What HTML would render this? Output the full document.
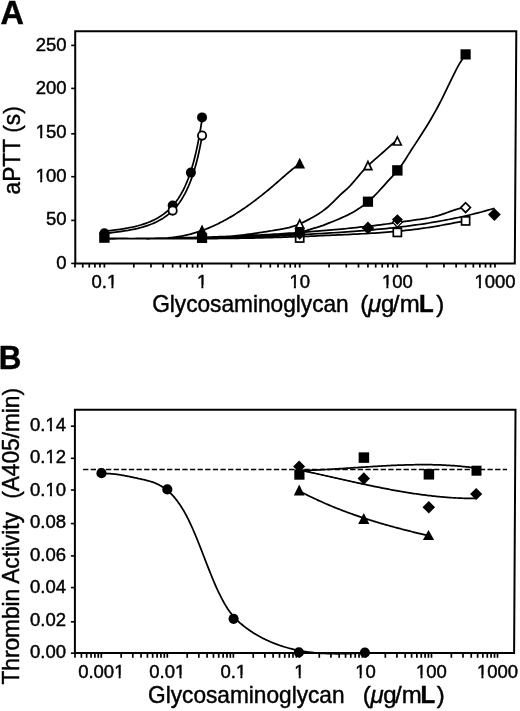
<!DOCTYPE html>
<html><head><meta charset="utf-8"><style>
html,body{margin:0;padding:0;background:#fff;}
body{width:520px;height:711px;overflow:hidden;}
svg{display:block;will-change:transform;}
text{font-family:"Liberation Sans",sans-serif;}
</style></head><body>
<svg width="520" height="711" viewBox="0 0 520 711">
<text x="0.60" y="23.80" font-size="32.40" text-anchor="start" font-family="Liberation Sans, sans-serif" stroke="#000" stroke-width="0.45" font-weight="bold">A</text>
<path d="M75.2,31.2 L516.3,31.2 L514.8,263.4 L75.3,263.4 Z" fill="none" stroke="#000" stroke-width="2"/>
<line x1="71.2" y1="263.40" x2="75" y2="263.40" stroke="#000" stroke-width="1.6"/>
<text x="66.60" y="268.80" font-size="18.50" text-anchor="end" font-family="Liberation Sans, sans-serif" stroke="#000" stroke-width="0.45" >0</text>
<line x1="71.2" y1="220.40" x2="75" y2="220.40" stroke="#000" stroke-width="1.6"/>
<text x="66.60" y="225.20" font-size="18.50" text-anchor="end" font-family="Liberation Sans, sans-serif" stroke="#000" stroke-width="0.45" >50</text>
<line x1="71.2" y1="176.70" x2="75" y2="176.70" stroke="#000" stroke-width="1.6"/>
<text x="66.60" y="181.60" font-size="18.50" text-anchor="end" font-family="Liberation Sans, sans-serif" stroke="#000" stroke-width="0.45" >100</text>
<rect x="36.00" y="179.20" width="4.18" height="4.40" fill="#fff"/>
<rect x="42.22" y="179.20" width="3.74" height="4.40" fill="#fff"/>
<line x1="71.2" y1="133.80" x2="75" y2="133.80" stroke="#000" stroke-width="1.6"/>
<text x="66.60" y="138.00" font-size="18.50" text-anchor="end" font-family="Liberation Sans, sans-serif" stroke="#000" stroke-width="0.45" >150</text>
<rect x="36.00" y="135.60" width="4.18" height="4.40" fill="#fff"/>
<rect x="42.22" y="135.60" width="3.74" height="4.40" fill="#fff"/>
<line x1="71.2" y1="88.40" x2="75" y2="88.40" stroke="#000" stroke-width="1.6"/>
<text x="66.60" y="94.40" font-size="18.50" text-anchor="end" font-family="Liberation Sans, sans-serif" stroke="#000" stroke-width="0.45" >200</text>
<line x1="71.2" y1="45.40" x2="75" y2="45.40" stroke="#000" stroke-width="1.6"/>
<text x="66.60" y="50.80" font-size="18.50" text-anchor="end" font-family="Liberation Sans, sans-serif" stroke="#000" stroke-width="0.45" >250</text>
<line x1="75.00" y1="263.5" x2="75.00" y2="267.6" stroke="#000" stroke-width="1.7"/>
<line x1="82.73" y1="263.5" x2="82.73" y2="267.6" stroke="#000" stroke-width="1.7"/>
<line x1="89.27" y1="263.5" x2="89.27" y2="267.6" stroke="#000" stroke-width="1.7"/>
<line x1="94.93" y1="263.5" x2="94.93" y2="267.6" stroke="#000" stroke-width="1.7"/>
<line x1="99.93" y1="263.5" x2="99.93" y2="267.6" stroke="#000" stroke-width="1.7"/>
<line x1="104.40" y1="263.5" x2="104.40" y2="267.6" stroke="#000" stroke-width="1.7"/>
<line x1="133.79" y1="263.5" x2="133.79" y2="267.6" stroke="#000" stroke-width="1.7"/>
<line x1="150.99" y1="263.5" x2="150.99" y2="267.6" stroke="#000" stroke-width="1.7"/>
<line x1="163.19" y1="263.5" x2="163.19" y2="267.6" stroke="#000" stroke-width="1.7"/>
<line x1="172.65" y1="263.5" x2="172.65" y2="267.6" stroke="#000" stroke-width="1.7"/>
<line x1="180.38" y1="263.5" x2="180.38" y2="267.6" stroke="#000" stroke-width="1.7"/>
<line x1="186.92" y1="263.5" x2="186.92" y2="267.6" stroke="#000" stroke-width="1.7"/>
<line x1="192.58" y1="263.5" x2="192.58" y2="267.6" stroke="#000" stroke-width="1.7"/>
<line x1="197.58" y1="263.5" x2="197.58" y2="267.6" stroke="#000" stroke-width="1.7"/>
<line x1="202.05" y1="263.5" x2="202.05" y2="267.6" stroke="#000" stroke-width="1.7"/>
<line x1="231.44" y1="263.5" x2="231.44" y2="267.6" stroke="#000" stroke-width="1.7"/>
<line x1="248.64" y1="263.5" x2="248.64" y2="267.6" stroke="#000" stroke-width="1.7"/>
<line x1="260.84" y1="263.5" x2="260.84" y2="267.6" stroke="#000" stroke-width="1.7"/>
<line x1="270.30" y1="263.5" x2="270.30" y2="267.6" stroke="#000" stroke-width="1.7"/>
<line x1="278.03" y1="263.5" x2="278.03" y2="267.6" stroke="#000" stroke-width="1.7"/>
<line x1="284.57" y1="263.5" x2="284.57" y2="267.6" stroke="#000" stroke-width="1.7"/>
<line x1="290.23" y1="263.5" x2="290.23" y2="267.6" stroke="#000" stroke-width="1.7"/>
<line x1="295.23" y1="263.5" x2="295.23" y2="267.6" stroke="#000" stroke-width="1.7"/>
<line x1="299.70" y1="263.5" x2="299.70" y2="267.6" stroke="#000" stroke-width="1.7"/>
<line x1="329.09" y1="263.5" x2="329.09" y2="267.6" stroke="#000" stroke-width="1.7"/>
<line x1="346.29" y1="263.5" x2="346.29" y2="267.6" stroke="#000" stroke-width="1.7"/>
<line x1="358.49" y1="263.5" x2="358.49" y2="267.6" stroke="#000" stroke-width="1.7"/>
<line x1="367.95" y1="263.5" x2="367.95" y2="267.6" stroke="#000" stroke-width="1.7"/>
<line x1="375.68" y1="263.5" x2="375.68" y2="267.6" stroke="#000" stroke-width="1.7"/>
<line x1="382.22" y1="263.5" x2="382.22" y2="267.6" stroke="#000" stroke-width="1.7"/>
<line x1="387.88" y1="263.5" x2="387.88" y2="267.6" stroke="#000" stroke-width="1.7"/>
<line x1="392.88" y1="263.5" x2="392.88" y2="267.6" stroke="#000" stroke-width="1.7"/>
<line x1="397.35" y1="263.5" x2="397.35" y2="267.6" stroke="#000" stroke-width="1.7"/>
<line x1="426.74" y1="263.5" x2="426.74" y2="267.6" stroke="#000" stroke-width="1.7"/>
<line x1="443.94" y1="263.5" x2="443.94" y2="267.6" stroke="#000" stroke-width="1.7"/>
<line x1="456.14" y1="263.5" x2="456.14" y2="267.6" stroke="#000" stroke-width="1.7"/>
<line x1="465.60" y1="263.5" x2="465.60" y2="267.6" stroke="#000" stroke-width="1.7"/>
<line x1="473.33" y1="263.5" x2="473.33" y2="267.6" stroke="#000" stroke-width="1.7"/>
<line x1="479.87" y1="263.5" x2="479.87" y2="267.6" stroke="#000" stroke-width="1.7"/>
<line x1="485.53" y1="263.5" x2="485.53" y2="267.6" stroke="#000" stroke-width="1.7"/>
<line x1="490.53" y1="263.5" x2="490.53" y2="267.6" stroke="#000" stroke-width="1.7"/>
<line x1="495.00" y1="263.5" x2="495.00" y2="267.6" stroke="#000" stroke-width="1.7"/>
<text x="104.40" y="287.60" font-size="18.50" text-anchor="middle" font-family="Liberation Sans, sans-serif" stroke="#000" stroke-width="0.45" >0.1</text>
<rect x="107.24" y="285.20" width="4.18" height="4.40" fill="#fff"/>
<rect x="113.45" y="285.20" width="3.74" height="4.40" fill="#fff"/>
<text x="202.05" y="287.60" font-size="18.50" text-anchor="middle" font-family="Liberation Sans, sans-serif" stroke="#000" stroke-width="0.45" >1</text>
<rect x="197.17" y="285.20" width="4.18" height="4.40" fill="#fff"/>
<rect x="203.39" y="285.20" width="3.74" height="4.40" fill="#fff"/>
<text x="299.70" y="287.60" font-size="18.50" text-anchor="middle" font-family="Liberation Sans, sans-serif" stroke="#000" stroke-width="0.45" >10</text>
<rect x="289.68" y="285.20" width="4.18" height="4.40" fill="#fff"/>
<rect x="295.89" y="285.20" width="3.74" height="4.40" fill="#fff"/>
<text x="397.35" y="287.60" font-size="18.50" text-anchor="middle" font-family="Liberation Sans, sans-serif" stroke="#000" stroke-width="0.45" >100</text>
<rect x="382.18" y="285.20" width="4.18" height="4.40" fill="#fff"/>
<rect x="388.40" y="285.20" width="3.74" height="4.40" fill="#fff"/>
<text x="495.00" y="287.60" font-size="18.50" text-anchor="middle" font-family="Liberation Sans, sans-serif" stroke="#000" stroke-width="0.45" >1000</text>
<rect x="474.69" y="285.20" width="4.18" height="4.40" fill="#fff"/>
<rect x="480.91" y="285.20" width="3.74" height="4.40" fill="#fff"/>
<text transform="translate(152.20,311.90) scale(0.945,1)" font-size="24.00" font-family="Liberation Sans, sans-serif" stroke="#000" stroke-width="0.45">Glycosaminoglycan</text><text y="311.90" font-size="24.00" font-family="Liberation Sans, sans-serif" stroke="#000" stroke-width="0.45"><tspan x="360.26">(</tspan><tspan x="367.98" font-style="italic">μ</tspan><tspan x="380.94">g</tspan><tspan x="392.70">/</tspan><tspan x="399.72">m</tspan><tspan x="419.02" font-weight="bold">L</tspan><tspan x="436.26">)</tspan></text>
<text transform="translate(20.00,194.40) rotate(-90) scale(0.945,1)" font-size="24.00" font-family="Liberation Sans, sans-serif" stroke="#000" stroke-width="0.45"><tspan x="0">aPTT</tspan><tspan x="65.29">(s)</tspan></text>
<path d="M104.40,231.20 L110.32,230.60 L115.52,229.97 L120.15,229.33 L124.33,228.66 L128.13,227.98 L131.62,227.26 L134.84,226.53 L137.83,225.77 L140.63,224.98 L143.25,224.17 L145.73,223.33 L148.06,222.47 L150.27,221.57 L152.38,220.65 L154.38,219.69 L156.29,218.70 L158.13,217.68 L159.88,216.62 L161.57,215.53 L163.19,214.41 L164.75,213.24 L166.25,212.04 L167.71,210.79 L169.11,209.51 L170.47,208.18 L171.79,206.80 L173.07,205.38 L174.31,203.91 L175.52,202.40 L176.69,200.83 L177.83,199.21 L178.94,197.54 L180.03,195.81 L181.08,194.02 L182.11,192.17 L183.12,190.26 L184.10,188.29 L185.06,186.25 L186.00,184.14 L186.92,181.96 L187.82,179.71 L188.70,177.38 L189.56,174.98 L190.41,172.49 L191.24,169.92 L192.05,167.27 L192.85,164.53 L193.63,161.69 L194.40,158.76 L195.15,155.73 L195.90,152.61 L196.62,149.37 L197.34,146.03 L198.05,142.57 L198.74,139.00 L199.42,135.32 L200.09,131.50 L200.75,127.56 L201.40,123.49 L202.05,119.28 M104.40,233.31 L110.32,232.76 L115.52,232.18 L120.15,231.59 L124.33,230.98 L128.13,230.36 L131.62,229.71 L134.84,229.04 L137.83,228.35 L140.63,227.63 L143.25,226.90 L145.73,226.14 L148.06,225.36 L150.27,224.55 L152.38,223.71 L154.38,222.85 L156.29,221.97 L158.13,221.05 L159.88,220.10 L161.57,219.13 L163.19,218.12 L164.75,217.08 L166.25,216.01 L167.71,214.91 L169.11,213.76 L170.47,212.59 L171.79,211.37 L173.07,210.12 L174.31,208.83 L175.52,207.49 L176.69,206.11 L177.83,204.69 L178.94,203.23 L180.03,201.71 L181.08,200.15 L182.11,198.54 L183.12,196.88 L184.10,195.16 L185.06,193.39 L186.00,191.56 L186.92,189.68 L187.82,187.74 L188.70,185.73 L189.56,183.66 L190.41,181.52 L191.24,179.32 L192.05,177.04 L192.85,174.69 L193.63,172.27 L194.40,169.77 L195.15,167.19 L195.90,164.53 L196.62,161.79 L197.34,158.95 L198.05,156.03 L198.74,153.01 L199.42,149.90 L200.09,146.69 L200.75,143.37 L201.40,139.95 L202.05,136.42 M104.40,238.68 L106.04,238.60 L107.68,238.54 L109.32,238.49 L110.96,238.46 L112.61,238.43 L114.25,238.41 L115.89,238.40 L117.53,238.39 L119.17,238.39 L120.81,238.40 L122.45,238.42 L124.09,238.44 L125.74,238.46 L127.38,238.48 L129.02,238.51 L130.66,238.54 L132.30,238.57 L133.94,238.60 L135.58,238.63 L137.22,238.66 L138.86,238.68 L140.51,238.71 L142.15,238.72 L143.79,238.74 L145.43,238.75 L147.07,238.75 L148.71,238.75 L150.35,238.74 L151.99,238.72 L153.64,238.69 L155.28,238.65 L156.92,238.60 L158.56,238.54 L160.20,238.47 L161.84,238.38 L163.48,238.29 L165.12,238.17 L166.76,238.05 L168.41,237.90 L170.05,237.74 L171.69,237.57 L173.33,237.37 L174.97,237.16 L176.61,236.92 L178.25,236.67 L179.89,236.39 L181.54,236.10 L183.18,235.78 L184.82,235.44 L186.46,235.08 L188.10,234.69 L189.74,234.29 L191.38,233.86 L193.02,233.41 L194.66,232.93 L196.31,232.44 L197.95,231.92 L199.59,231.38 L201.23,230.82 L202.87,230.23 L204.51,229.63 L206.15,229.00 L207.79,228.35 L209.44,227.67 L211.08,226.97 L212.72,226.25 L214.36,225.51 L216.00,224.75 L217.64,223.96 L219.28,223.15 L220.92,222.32 L222.56,221.46 L224.21,220.59 L225.85,219.69 L227.49,218.77 L229.13,217.83 L230.77,216.87 L232.41,215.89 L234.05,214.89 L235.69,213.87 L237.34,212.83 L238.98,211.77 L240.62,210.70 L242.26,209.60 L243.90,208.48 L245.54,207.35 L247.18,206.20 L248.82,205.03 L250.46,203.85 L252.11,202.64 L253.75,201.42 L255.39,200.19 L257.03,198.93 L258.67,197.66 L260.31,196.38 L261.95,195.08 L263.59,193.76 L265.24,192.43 L266.88,191.09 L268.52,189.73 L270.16,188.36 L271.80,186.98 L273.44,185.58 L275.08,184.18 L276.72,182.76 L278.36,181.34 L280.01,179.90 L281.65,178.46 L283.29,177.01 L284.93,175.57 L286.57,174.14 L288.21,172.72 L289.85,171.33 L291.49,169.97 L293.14,168.64 L294.78,167.35 L296.42,166.11 L298.06,164.92 L299.70,163.80 M104.40,238.70 L106.86,238.67 L109.32,238.64 L111.78,238.61 L114.24,238.59 L116.69,238.58 L119.15,238.57 L121.61,238.56 L124.07,238.55 L126.53,238.55 L128.99,238.55 L131.45,238.55 L133.91,238.56 L136.36,238.56 L138.82,238.57 L141.28,238.57 L143.74,238.58 L146.20,238.59 L148.66,238.59 L151.12,238.60 L153.58,238.60 L156.04,238.60 L158.49,238.60 L160.95,238.60 L163.41,238.60 L165.87,238.59 L168.33,238.58 L170.79,238.57 L173.25,238.55 L175.71,238.53 L178.16,238.50 L180.62,238.47 L183.08,238.43 L185.54,238.39 L188.00,238.34 L190.46,238.29 L192.92,238.23 L195.38,238.16 L197.84,238.08 L200.29,238.00 L202.75,237.90 L205.21,237.80 L207.67,237.69 L210.13,237.58 L212.59,237.45 L215.05,237.31 L217.51,237.16 L219.96,237.00 L222.42,236.83 L224.88,236.65 L227.34,236.46 L229.80,236.25 L232.26,236.04 L234.72,235.81 L237.18,235.56 L239.64,235.31 L242.09,235.04 L244.55,234.75 L247.01,234.45 L249.47,234.14 L251.93,233.81 L254.39,233.47 L256.85,233.11 L259.31,232.74 L261.76,232.35 L264.22,231.96 L266.68,231.56 L269.14,231.15 L271.60,230.75 L274.06,230.34 L276.52,229.94 L278.98,229.54 L281.44,229.11 L283.89,228.66 L286.35,228.15 L288.81,227.57 L291.27,226.92 L293.73,226.17 L296.19,225.31 L298.65,224.35 L301.11,223.28 L303.56,222.13 L306.02,220.90 L308.48,219.62 L310.94,218.30 L313.40,216.93 L315.86,215.51 L318.32,214.00 L320.78,212.39 L323.24,210.65 L325.69,208.77 L328.15,206.72 L330.61,204.48 L333.07,202.08 L335.53,199.58 L337.99,197.10 L340.45,194.72 L342.91,192.48 L345.36,190.29 L347.82,188.03 L350.28,185.59 L352.74,182.91 L355.20,180.04 L357.66,177.09 L360.12,174.14 L362.58,171.29 L365.04,168.61 L367.49,166.12 L369.95,163.78 L372.41,161.56 L374.87,159.41 L377.33,157.30 L379.79,155.18 L382.25,153.02 L384.71,150.82 L387.16,148.60 L389.62,146.41 L392.08,144.27 L394.54,142.21 L397.00,140.28 M104.40,238.65 L107.44,238.65 L110.48,238.65 L113.52,238.65 L116.55,238.65 L119.59,238.65 L122.63,238.65 L125.67,238.65 L128.71,238.65 L131.75,238.65 L134.79,238.65 L137.83,238.65 L140.86,238.64 L143.90,238.64 L146.94,238.63 L149.98,238.63 L153.02,238.62 L156.06,238.61 L159.10,238.59 L162.13,238.58 L165.17,238.56 L168.21,238.54 L171.25,238.51 L174.29,238.49 L177.33,238.45 L180.37,238.42 L183.41,238.38 L186.44,238.34 L189.48,238.29 L192.52,238.24 L195.56,238.18 L198.60,238.12 L201.64,238.05 L204.68,237.98 L207.71,237.91 L210.75,237.82 L213.79,237.73 L216.83,237.64 L219.87,237.54 L222.91,237.44 L225.95,237.33 L228.98,237.22 L232.02,237.11 L235.06,236.99 L238.10,236.87 L241.14,236.75 L244.18,236.62 L247.22,236.50 L250.26,236.37 L253.29,236.25 L256.33,236.12 L259.37,235.99 L262.41,235.87 L265.45,235.74 L268.49,235.62 L271.53,235.50 L274.56,235.38 L277.60,235.27 L280.64,235.16 L283.68,235.04 L286.72,234.88 L289.76,234.64 L292.80,234.29 L295.84,233.79 L298.87,233.11 L301.91,232.21 L304.95,231.15 L307.99,230.06 L311.03,229.06 L314.07,228.18 L317.11,227.33 L320.14,226.40 L323.18,225.34 L326.22,224.16 L329.26,222.92 L332.30,221.69 L335.34,220.46 L338.38,219.20 L341.42,217.91 L344.45,216.56 L347.49,215.12 L350.53,213.58 L353.57,211.91 L356.61,210.09 L359.65,208.10 L362.69,205.93 L365.72,203.56 L368.76,201.01 L371.80,198.26 L374.84,195.34 L377.88,192.24 L380.92,188.96 L383.96,185.55 L386.99,182.12 L390.03,178.79 L393.07,175.60 L396.11,172.30 L399.15,168.58 L402.19,164.31 L405.23,159.68 L408.27,154.86 L411.30,150.06 L414.34,145.35 L417.38,140.69 L420.42,136.02 L423.46,131.29 L426.50,126.44 L429.54,121.44 L432.57,116.25 L435.61,110.85 L438.65,105.22 L441.69,99.33 L444.73,93.17 L447.77,86.86 L450.81,80.51 L453.85,74.29 L456.88,68.36 L459.92,62.94 L462.96,58.22 L466.00,54.39 M104.40,238.77 L107.43,238.76 L110.47,238.74 L113.50,238.73 L116.54,238.71 L119.57,238.69 L122.61,238.67 L125.64,238.65 L128.68,238.62 L131.71,238.59 L134.74,238.57 L137.78,238.54 L140.81,238.50 L143.85,238.47 L146.88,238.43 L149.92,238.39 L152.95,238.35 L155.99,238.30 L159.02,238.26 L162.05,238.21 L165.09,238.16 L168.12,238.10 L171.16,238.05 L174.19,237.99 L177.23,237.92 L180.26,237.86 L183.30,237.79 L186.33,237.72 L189.36,237.65 L192.40,237.57 L195.43,237.49 L198.47,237.41 L201.50,237.32 L204.54,237.23 L207.57,237.14 L210.61,237.05 L213.64,236.95 L216.67,236.85 L219.71,236.74 L222.74,236.63 L225.78,236.52 L228.81,236.40 L231.85,236.28 L234.88,236.16 L237.92,236.03 L240.95,235.90 L243.98,235.76 L247.02,235.62 L250.05,235.48 L253.09,235.33 L256.12,235.18 L259.16,235.03 L262.19,234.87 L265.23,234.70 L268.26,234.54 L271.29,234.36 L274.33,234.19 L277.36,234.01 L280.40,233.82 L283.43,233.63 L286.47,233.44 L289.50,233.24 L292.54,233.03 L295.57,232.82 L298.61,232.61 L301.64,232.39 L304.67,232.17 L307.71,231.94 L310.74,231.71 L313.78,231.47 L316.81,231.22 L319.85,230.98 L322.88,230.72 L325.92,230.46 L328.95,230.20 L331.98,229.93 L335.02,229.65 L338.05,229.37 L341.09,229.09 L344.12,228.79 L347.16,228.50 L350.19,228.19 L353.23,227.88 L356.26,227.57 L359.29,227.24 L362.33,226.91 L365.36,226.58 L368.40,226.23 L371.43,225.88 L374.47,225.52 L377.50,225.15 L380.54,224.78 L383.57,224.39 L386.60,224.00 L389.64,223.60 L392.67,223.19 L395.71,222.77 L398.74,222.34 L401.78,221.90 L404.81,221.46 L407.85,221.01 L410.88,220.57 L413.91,220.13 L416.95,219.69 L419.98,219.26 L423.02,218.80 L426.05,218.30 L429.09,217.75 L432.12,217.13 L435.16,216.42 L438.19,215.60 L441.22,214.66 L444.26,213.61 L447.29,212.50 L450.33,211.39 L453.36,210.31 L456.40,209.34 L459.43,208.52 L462.47,207.90 L465.50,207.53 M104.40,238.69 L107.44,238.67 L110.48,238.65 L113.52,238.64 L116.56,238.63 L119.60,238.62 L122.64,238.61 L125.68,238.60 L128.72,238.60 L131.76,238.60 L134.79,238.60 L137.83,238.59 L140.87,238.59 L143.91,238.60 L146.95,238.60 L149.99,238.60 L153.03,238.60 L156.07,238.61 L159.11,238.61 L162.15,238.61 L165.19,238.62 L168.23,238.62 L171.27,238.62 L174.31,238.62 L177.35,238.63 L180.39,238.63 L183.43,238.63 L186.47,238.62 L189.51,238.62 L192.55,238.62 L195.58,238.61 L198.62,238.60 L201.66,238.59 L204.70,238.58 L207.74,238.57 L210.78,238.55 L213.82,238.54 L216.86,238.52 L219.90,238.49 L222.94,238.47 L225.98,238.44 L229.02,238.40 L232.06,238.37 L235.10,238.33 L238.14,238.29 L241.18,238.24 L244.22,238.19 L247.26,238.14 L250.30,238.08 L253.34,238.02 L256.37,237.95 L259.41,237.88 L262.45,237.81 L265.49,237.73 L268.53,237.65 L271.57,237.56 L274.61,237.47 L277.65,237.37 L280.69,237.28 L283.73,237.18 L286.77,237.07 L289.81,236.96 L292.85,236.85 L295.89,236.74 L298.93,236.63 L301.97,236.51 L305.01,236.39 L308.05,236.26 L311.09,236.14 L314.13,236.01 L317.16,235.88 L320.20,235.75 L323.24,235.62 L326.28,235.49 L329.32,235.35 L332.36,235.21 L335.40,235.08 L338.44,234.94 L341.48,234.80 L344.52,234.66 L347.56,234.52 L350.60,234.37 L353.64,234.22 L356.68,234.07 L359.72,233.91 L362.76,233.75 L365.80,233.58 L368.84,233.40 L371.88,233.22 L374.92,233.03 L377.95,232.82 L380.99,232.61 L384.03,232.39 L387.07,232.15 L390.11,231.90 L393.15,231.64 L396.19,231.37 L399.23,231.08 L402.27,230.78 L405.31,230.46 L408.35,230.12 L411.39,229.77 L414.43,229.40 L417.47,229.01 L420.51,228.61 L423.55,228.19 L426.59,227.75 L429.63,227.29 L432.67,226.81 L435.71,226.31 L438.74,225.80 L441.78,225.26 L444.82,224.70 L447.86,224.13 L450.90,223.56 L453.94,222.97 L456.98,222.38 L460.02,221.80 L463.06,221.22 L466.10,220.66 M104.40,238.89 L107.68,238.84 L110.95,238.80 L114.23,238.76 L117.51,238.72 L120.79,238.67 L124.06,238.63 L127.34,238.59 L130.62,238.55 L133.90,238.51 L137.17,238.47 L140.45,238.44 L143.73,238.40 L147.01,238.36 L150.28,238.32 L153.56,238.28 L156.84,238.24 L160.11,238.19 L163.39,238.15 L166.67,238.11 L169.95,238.07 L173.22,238.02 L176.50,237.98 L179.78,237.93 L183.06,237.89 L186.33,237.84 L189.61,237.79 L192.89,237.73 L196.16,237.68 L199.44,237.63 L202.72,237.57 L206.00,237.51 L209.27,237.45 L212.55,237.39 L215.83,237.32 L219.11,237.26 L222.38,237.19 L225.66,237.12 L228.94,237.04 L232.22,236.97 L235.49,236.89 L238.77,236.80 L242.05,236.72 L245.32,236.63 L248.60,236.54 L251.88,236.44 L255.16,236.35 L258.43,236.24 L261.71,236.14 L264.99,236.03 L268.27,235.92 L271.54,235.80 L274.82,235.68 L278.10,235.56 L281.37,235.43 L284.65,235.30 L287.93,235.16 L291.21,235.02 L294.48,234.88 L297.76,234.73 L301.04,234.57 L304.32,234.41 L307.59,234.25 L310.87,234.08 L314.15,233.91 L317.43,233.73 L320.70,233.54 L323.98,233.35 L327.26,233.16 L330.53,232.96 L333.81,232.75 L337.09,232.54 L340.37,232.32 L343.64,232.10 L346.92,231.87 L350.20,231.63 L353.48,231.39 L356.75,231.14 L360.03,230.88 L363.31,230.62 L366.58,230.35 L369.86,230.07 L373.14,229.78 L376.42,229.48 L379.69,229.17 L382.97,228.85 L386.25,228.52 L389.53,228.18 L392.80,227.82 L396.08,227.45 L399.36,227.08 L402.64,226.68 L405.91,226.28 L409.19,225.85 L412.47,225.42 L415.74,224.97 L419.02,224.50 L422.30,224.02 L425.58,223.52 L428.85,223.00 L432.13,222.46 L435.41,221.91 L438.69,221.34 L441.96,220.75 L445.24,220.14 L448.52,219.51 L451.79,218.86 L455.07,218.18 L458.35,217.49 L461.63,216.78 L464.90,216.04 L468.18,215.28 L471.46,214.49 L474.74,213.68 L478.01,212.85 L481.29,211.99 L484.57,211.11 L487.85,210.20 L491.12,209.27 L494.40,208.30" fill="none" stroke="#000" stroke-width="1.75" />
<rect x="99.20" y="232.40" width="10.40" height="10.40" fill="#000"/>
<circle cx="104.40" cy="233.20" r="5.00" fill="#000"/>
<circle cx="172.65" cy="205.60" r="5.00" fill="#000"/>
<circle cx="172.65" cy="210.60" r="4.15" fill="#fff" stroke="#000" stroke-width="1.8"/>
<circle cx="190.90" cy="172.60" r="5.00" fill="#000"/>
<circle cx="202.05" cy="117.40" r="5.00" fill="#000"/>
<circle cx="202.05" cy="135.60" r="4.15" fill="#fff" stroke="#000" stroke-width="1.8"/>
<rect x="196.95" y="232.80" width="10.20" height="10.20" fill="#000"/>
<path d="M202.05,224.60 L207.45,235.40 L196.65,235.40 Z" fill="#000"/>
<rect x="295.65" y="233.95" width="8.10" height="8.10" fill="#fff" stroke="#000" stroke-width="1.7"/>
<rect x="294.90" y="227.70" width="9.60" height="9.60" fill="#000"/>
<path d="M299.70,228.20 L305.50,234.00 L299.70,239.80 L293.90,234.00 Z" fill="#000"/>
<path d="M299.70,219.95 L303.60,227.95 L295.80,227.95 Z" fill="#fff" stroke="#000" stroke-width="1.7" stroke-linejoin="miter"/>
<path d="M299.70,157.70 L305.10,168.50 L294.30,168.50 Z" fill="#000"/>
<path d="M367.95,221.60 L374.25,227.90 L367.95,234.20 L361.65,227.90 Z" fill="#000"/>
<rect x="362.85" y="196.60" width="10.20" height="10.20" fill="#000"/>
<path d="M367.95,161.55 L371.85,169.55 L364.05,169.55 Z" fill="#fff" stroke="#000" stroke-width="1.7" stroke-linejoin="miter"/>
<rect x="393.30" y="228.35" width="8.10" height="8.10" fill="#fff" stroke="#000" stroke-width="1.7"/>
<path d="M397.40,217.30 L402.30,222.20 L397.40,227.10 L392.50,222.20 Z" fill="#fff" stroke="#000" stroke-width="1.30"/>
<path d="M397.40,214.15 L402.85,219.60 L397.40,225.05 L391.95,219.60 Z" fill="#000"/>
<rect x="392.15" y="165.20" width="10.40" height="10.40" fill="#000"/>
<path d="M397.35,137.00 L401.25,145.00 L393.45,145.00 Z" fill="#fff" stroke="#000" stroke-width="1.7" stroke-linejoin="miter"/>
<rect x="461.55" y="216.85" width="8.10" height="8.10" fill="#fff" stroke="#000" stroke-width="1.7"/>
<path d="M465.60,202.75 L470.45,207.60 L465.60,212.45 L460.75,207.60 Z" fill="#fff" stroke="#000" stroke-width="1.70"/>
<rect x="460.50" y="49.30" width="10.20" height="10.20" fill="#000"/>
<path d="M494.40,208.20 L500.80,214.60 L494.40,221.00 L488.00,214.60 Z" fill="#000"/>
<text x="-1.20" y="368.90" font-size="33.00" text-anchor="start" font-family="Liberation Sans, sans-serif" stroke="#000" stroke-width="0.45" font-weight="bold" transform="translate(-1.2,368.9) scale(0.95,1) translate(1.2,-368.9)">B</text>
<path d="M74.9,409.7 L515.5,409.7 L514.1,653.1 L74.9,653.1 Z" fill="none" stroke="#000" stroke-width="2"/>
<line x1="70.9" y1="653.20" x2="75" y2="653.20" stroke="#000" stroke-width="1.6"/>
<text x="66.00" y="658.30" font-size="18.50" text-anchor="end" font-family="Liberation Sans, sans-serif" stroke="#000" stroke-width="0.45" >0.00</text>
<line x1="70.9" y1="621.85" x2="75" y2="621.85" stroke="#000" stroke-width="1.6"/>
<text x="66.00" y="625.80" font-size="18.50" text-anchor="end" font-family="Liberation Sans, sans-serif" stroke="#000" stroke-width="0.45" >0.02</text>
<line x1="70.9" y1="587.60" x2="75" y2="587.60" stroke="#000" stroke-width="1.6"/>
<text x="66.00" y="593.30" font-size="18.50" text-anchor="end" font-family="Liberation Sans, sans-serif" stroke="#000" stroke-width="0.45" >0.04</text>
<line x1="70.9" y1="555.90" x2="75" y2="555.90" stroke="#000" stroke-width="1.6"/>
<text x="66.00" y="560.80" font-size="18.50" text-anchor="end" font-family="Liberation Sans, sans-serif" stroke="#000" stroke-width="0.45" >0.06</text>
<line x1="70.9" y1="523.60" x2="75" y2="523.60" stroke="#000" stroke-width="1.6"/>
<text x="66.00" y="528.30" font-size="18.50" text-anchor="end" font-family="Liberation Sans, sans-serif" stroke="#000" stroke-width="0.45" >0.08</text>
<line x1="70.9" y1="490.00" x2="75" y2="490.00" stroke="#000" stroke-width="1.6"/>
<text x="66.00" y="495.80" font-size="18.50" text-anchor="end" font-family="Liberation Sans, sans-serif" stroke="#000" stroke-width="0.45" >0.10</text>
<rect x="45.69" y="493.40" width="4.18" height="4.40" fill="#fff"/>
<rect x="51.91" y="493.40" width="3.74" height="4.40" fill="#fff"/>
<line x1="70.9" y1="458.30" x2="75" y2="458.30" stroke="#000" stroke-width="1.6"/>
<text x="66.00" y="463.30" font-size="18.50" text-anchor="end" font-family="Liberation Sans, sans-serif" stroke="#000" stroke-width="0.45" >0.12</text>
<rect x="45.69" y="460.90" width="4.18" height="4.40" fill="#fff"/>
<rect x="51.91" y="460.90" width="3.74" height="4.40" fill="#fff"/>
<line x1="70.9" y1="426.15" x2="75" y2="426.15" stroke="#000" stroke-width="1.6"/>
<text x="66.00" y="430.80" font-size="18.50" text-anchor="end" font-family="Liberation Sans, sans-serif" stroke="#000" stroke-width="0.45" >0.14</text>
<rect x="45.69" y="428.40" width="4.18" height="4.40" fill="#fff"/>
<rect x="51.91" y="428.40" width="3.74" height="4.40" fill="#fff"/>
<line x1="75.00" y1="653.2" x2="75.00" y2="657.8" stroke="#000" stroke-width="1.7"/>
<line x1="81.40" y1="653.2" x2="81.40" y2="657.8" stroke="#000" stroke-width="1.7"/>
<line x1="86.63" y1="653.2" x2="86.63" y2="657.8" stroke="#000" stroke-width="1.7"/>
<line x1="91.05" y1="653.2" x2="91.05" y2="657.8" stroke="#000" stroke-width="1.7"/>
<line x1="94.88" y1="653.2" x2="94.88" y2="657.8" stroke="#000" stroke-width="1.7"/>
<line x1="98.26" y1="653.2" x2="98.26" y2="657.8" stroke="#000" stroke-width="1.7"/>
<line x1="101.28" y1="653.2" x2="101.28" y2="657.8" stroke="#000" stroke-width="1.7"/>
<line x1="121.16" y1="653.2" x2="121.16" y2="657.8" stroke="#000" stroke-width="1.7"/>
<line x1="132.79" y1="653.2" x2="132.79" y2="657.8" stroke="#000" stroke-width="1.7"/>
<line x1="141.04" y1="653.2" x2="141.04" y2="657.8" stroke="#000" stroke-width="1.7"/>
<line x1="147.44" y1="653.2" x2="147.44" y2="657.8" stroke="#000" stroke-width="1.7"/>
<line x1="152.67" y1="653.2" x2="152.67" y2="657.8" stroke="#000" stroke-width="1.7"/>
<line x1="157.09" y1="653.2" x2="157.09" y2="657.8" stroke="#000" stroke-width="1.7"/>
<line x1="160.92" y1="653.2" x2="160.92" y2="657.8" stroke="#000" stroke-width="1.7"/>
<line x1="164.30" y1="653.2" x2="164.30" y2="657.8" stroke="#000" stroke-width="1.7"/>
<line x1="167.32" y1="653.2" x2="167.32" y2="657.8" stroke="#000" stroke-width="1.7"/>
<line x1="187.20" y1="653.2" x2="187.20" y2="657.8" stroke="#000" stroke-width="1.7"/>
<line x1="198.83" y1="653.2" x2="198.83" y2="657.8" stroke="#000" stroke-width="1.7"/>
<line x1="207.08" y1="653.2" x2="207.08" y2="657.8" stroke="#000" stroke-width="1.7"/>
<line x1="213.48" y1="653.2" x2="213.48" y2="657.8" stroke="#000" stroke-width="1.7"/>
<line x1="218.71" y1="653.2" x2="218.71" y2="657.8" stroke="#000" stroke-width="1.7"/>
<line x1="223.13" y1="653.2" x2="223.13" y2="657.8" stroke="#000" stroke-width="1.7"/>
<line x1="226.96" y1="653.2" x2="226.96" y2="657.8" stroke="#000" stroke-width="1.7"/>
<line x1="230.34" y1="653.2" x2="230.34" y2="657.8" stroke="#000" stroke-width="1.7"/>
<line x1="233.36" y1="653.2" x2="233.36" y2="657.8" stroke="#000" stroke-width="1.7"/>
<line x1="253.24" y1="653.2" x2="253.24" y2="657.8" stroke="#000" stroke-width="1.7"/>
<line x1="264.87" y1="653.2" x2="264.87" y2="657.8" stroke="#000" stroke-width="1.7"/>
<line x1="273.12" y1="653.2" x2="273.12" y2="657.8" stroke="#000" stroke-width="1.7"/>
<line x1="279.52" y1="653.2" x2="279.52" y2="657.8" stroke="#000" stroke-width="1.7"/>
<line x1="284.75" y1="653.2" x2="284.75" y2="657.8" stroke="#000" stroke-width="1.7"/>
<line x1="289.17" y1="653.2" x2="289.17" y2="657.8" stroke="#000" stroke-width="1.7"/>
<line x1="293.00" y1="653.2" x2="293.00" y2="657.8" stroke="#000" stroke-width="1.7"/>
<line x1="296.38" y1="653.2" x2="296.38" y2="657.8" stroke="#000" stroke-width="1.7"/>
<line x1="299.40" y1="653.2" x2="299.40" y2="657.8" stroke="#000" stroke-width="1.7"/>
<line x1="319.28" y1="653.2" x2="319.28" y2="657.8" stroke="#000" stroke-width="1.7"/>
<line x1="330.91" y1="653.2" x2="330.91" y2="657.8" stroke="#000" stroke-width="1.7"/>
<line x1="339.16" y1="653.2" x2="339.16" y2="657.8" stroke="#000" stroke-width="1.7"/>
<line x1="345.56" y1="653.2" x2="345.56" y2="657.8" stroke="#000" stroke-width="1.7"/>
<line x1="350.79" y1="653.2" x2="350.79" y2="657.8" stroke="#000" stroke-width="1.7"/>
<line x1="355.21" y1="653.2" x2="355.21" y2="657.8" stroke="#000" stroke-width="1.7"/>
<line x1="359.04" y1="653.2" x2="359.04" y2="657.8" stroke="#000" stroke-width="1.7"/>
<line x1="362.42" y1="653.2" x2="362.42" y2="657.8" stroke="#000" stroke-width="1.7"/>
<line x1="365.44" y1="653.2" x2="365.44" y2="657.8" stroke="#000" stroke-width="1.7"/>
<line x1="385.32" y1="653.2" x2="385.32" y2="657.8" stroke="#000" stroke-width="1.7"/>
<line x1="396.95" y1="653.2" x2="396.95" y2="657.8" stroke="#000" stroke-width="1.7"/>
<line x1="405.20" y1="653.2" x2="405.20" y2="657.8" stroke="#000" stroke-width="1.7"/>
<line x1="411.60" y1="653.2" x2="411.60" y2="657.8" stroke="#000" stroke-width="1.7"/>
<line x1="416.83" y1="653.2" x2="416.83" y2="657.8" stroke="#000" stroke-width="1.7"/>
<line x1="421.25" y1="653.2" x2="421.25" y2="657.8" stroke="#000" stroke-width="1.7"/>
<line x1="425.08" y1="653.2" x2="425.08" y2="657.8" stroke="#000" stroke-width="1.7"/>
<line x1="428.46" y1="653.2" x2="428.46" y2="657.8" stroke="#000" stroke-width="1.7"/>
<line x1="431.48" y1="653.2" x2="431.48" y2="657.8" stroke="#000" stroke-width="1.7"/>
<line x1="451.36" y1="653.2" x2="451.36" y2="657.8" stroke="#000" stroke-width="1.7"/>
<line x1="462.99" y1="653.2" x2="462.99" y2="657.8" stroke="#000" stroke-width="1.7"/>
<line x1="471.24" y1="653.2" x2="471.24" y2="657.8" stroke="#000" stroke-width="1.7"/>
<line x1="477.64" y1="653.2" x2="477.64" y2="657.8" stroke="#000" stroke-width="1.7"/>
<line x1="482.87" y1="653.2" x2="482.87" y2="657.8" stroke="#000" stroke-width="1.7"/>
<line x1="487.29" y1="653.2" x2="487.29" y2="657.8" stroke="#000" stroke-width="1.7"/>
<line x1="491.12" y1="653.2" x2="491.12" y2="657.8" stroke="#000" stroke-width="1.7"/>
<line x1="494.50" y1="653.2" x2="494.50" y2="657.8" stroke="#000" stroke-width="1.7"/>
<line x1="497.52" y1="653.2" x2="497.52" y2="657.8" stroke="#000" stroke-width="1.7"/>
<text x="101.28" y="677.50" font-size="18.50" text-anchor="middle" font-family="Liberation Sans, sans-serif" stroke="#000" stroke-width="0.45" >0.001</text>
<rect x="114.41" y="675.10" width="4.18" height="4.40" fill="#fff"/>
<rect x="120.63" y="675.10" width="3.74" height="4.40" fill="#fff"/>
<text x="167.32" y="677.50" font-size="18.50" text-anchor="middle" font-family="Liberation Sans, sans-serif" stroke="#000" stroke-width="0.45" >0.01</text>
<rect x="175.31" y="675.10" width="4.18" height="4.40" fill="#fff"/>
<rect x="181.52" y="675.10" width="3.74" height="4.40" fill="#fff"/>
<text x="233.36" y="677.50" font-size="18.50" text-anchor="middle" font-family="Liberation Sans, sans-serif" stroke="#000" stroke-width="0.45" >0.1</text>
<rect x="236.20" y="675.10" width="4.18" height="4.40" fill="#fff"/>
<rect x="242.42" y="675.10" width="3.74" height="4.40" fill="#fff"/>
<text x="299.40" y="677.50" font-size="18.50" text-anchor="middle" font-family="Liberation Sans, sans-serif" stroke="#000" stroke-width="0.45" >1</text>
<rect x="294.53" y="675.10" width="4.18" height="4.40" fill="#fff"/>
<rect x="300.74" y="675.10" width="3.74" height="4.40" fill="#fff"/>
<text x="365.44" y="677.50" font-size="18.50" text-anchor="middle" font-family="Liberation Sans, sans-serif" stroke="#000" stroke-width="0.45" >10</text>
<rect x="355.42" y="675.10" width="4.18" height="4.40" fill="#fff"/>
<rect x="361.64" y="675.10" width="3.74" height="4.40" fill="#fff"/>
<text x="431.48" y="677.50" font-size="18.50" text-anchor="middle" font-family="Liberation Sans, sans-serif" stroke="#000" stroke-width="0.45" >100</text>
<rect x="416.32" y="675.10" width="4.18" height="4.40" fill="#fff"/>
<rect x="422.53" y="675.10" width="3.74" height="4.40" fill="#fff"/>
<text x="497.52" y="677.50" font-size="18.50" text-anchor="middle" font-family="Liberation Sans, sans-serif" stroke="#000" stroke-width="0.45" >1000</text>
<rect x="477.21" y="675.10" width="4.18" height="4.40" fill="#fff"/>
<rect x="483.43" y="675.10" width="3.74" height="4.40" fill="#fff"/>
<text transform="translate(148.10,702.90) scale(0.945,1)" font-size="24.00" font-family="Liberation Sans, sans-serif" stroke="#000" stroke-width="0.45">Glycosaminoglycan</text><text y="702.90" font-size="24.00" font-family="Liberation Sans, sans-serif" stroke="#000" stroke-width="0.45"><tspan x="362.66">(</tspan><tspan x="370.38" font-style="italic">μ</tspan><tspan x="383.34">g</tspan><tspan x="395.10">/</tspan><tspan x="401.72">m</tspan><tspan x="420.42" font-weight="bold">L</tspan><tspan x="436.76">)</tspan></text>
<text transform="translate(19.10,684.55) rotate(-90) scale(0.945,1)" font-size="24.00" font-family="Liberation Sans, sans-serif" stroke="#000" stroke-width="0.45"><tspan x="0">Thrombin Activity</tspan><tspan x="196.56">(A405/min)</tspan></text>
<line x1="83.1" y1="469.5" x2="507.0" y2="469.5" stroke="#000" stroke-width="1.6" stroke-dasharray="5.3 2.33"/>
<path d="M101.50,473.51 L102.38,473.48 L103.26,473.47 L104.14,473.46 L105.02,473.47 L105.90,473.48 L106.79,473.51 L107.67,473.54 L108.55,473.59 L109.43,473.64 L110.31,473.70 L111.19,473.77 L112.07,473.85 L112.95,473.93 L113.83,474.03 L114.71,474.13 L115.59,474.23 L116.48,474.34 L117.36,474.46 L118.24,474.59 L119.12,474.72 L120.00,474.86 L120.88,475.00 L121.76,475.15 L122.64,475.30 L123.52,475.46 L124.40,475.62 L125.29,475.78 L126.17,475.95 L127.05,476.12 L127.93,476.30 L128.81,476.48 L129.69,476.66 L130.57,476.84 L131.45,477.02 L132.33,477.21 L133.21,477.40 L134.09,477.59 L134.98,477.78 L135.86,477.97 L136.74,478.16 L137.62,478.35 L138.50,478.55 L139.38,478.74 L140.26,478.93 L141.14,479.12 L142.02,479.31 L142.90,479.50 L143.78,479.70 L144.67,479.90 L145.55,480.11 L146.43,480.33 L147.31,480.55 L148.19,480.79 L149.07,481.03 L149.95,481.28 L150.83,481.55 L151.71,481.83 L152.59,482.13 L153.48,482.44 L154.36,482.77 L155.24,483.12 L156.12,483.48 L157.00,483.87 L157.88,484.28 L158.76,484.71 L159.64,485.17 L160.52,485.65 L161.40,486.16 L162.28,486.70 L163.17,487.26 L164.05,487.85 L164.93,488.48 L165.81,489.13 L166.69,489.82 L167.57,490.55 L168.45,491.31 L169.33,492.10 L170.21,492.93 L171.09,493.80 L171.97,494.71 L172.86,495.66 L173.74,496.64 L174.62,497.67 L175.50,498.74 L176.38,499.85 L177.26,501.00 L178.14,502.19 L179.02,503.43 L179.90,504.72 L180.78,506.05 L181.67,507.42 L182.55,508.85 L183.43,510.32 L184.31,511.84 L185.19,513.40 L186.07,515.02 L186.95,516.69 L187.83,518.41 L188.71,520.18 L189.59,522.01 L190.47,523.88 L191.36,525.79 L192.24,527.75 L193.12,529.75 L194.00,531.79 L194.88,533.86 L195.76,535.97 L196.64,538.12 L197.52,540.29 L198.40,542.48 L199.28,544.70 L200.16,546.94 L201.05,549.19 L201.93,551.46 L202.81,553.73 L203.69,556.01 L204.57,558.29 L205.45,560.57 L206.33,562.84 L207.21,565.11 L208.09,567.37 L208.97,569.61 L209.86,571.83 L210.74,574.03 L211.62,576.21 L212.50,578.36 L213.38,580.48 L214.26,582.56 L215.14,584.60 L216.02,586.61 L216.90,588.57 L217.78,590.49 L218.66,592.36 L219.55,594.18 L220.43,595.96 L221.31,597.69 L222.19,599.37 L223.07,601.01 L223.95,602.59 L224.83,604.12 L225.71,605.61 L226.59,607.04 L227.47,608.41 L228.35,609.73 L229.24,611.00 L230.12,612.22 L231.00,613.38 L231.88,614.50 L232.76,615.57 L233.64,616.60 L234.52,617.59 L235.40,618.53 L236.28,619.45 L237.16,620.33 L238.05,621.17 L238.93,621.99 L239.81,622.78 L240.69,623.55 L241.57,624.29 L242.45,625.02 L243.33,625.73 L244.21,626.42 L245.09,627.10 L245.97,627.77 L246.85,628.42 L247.74,629.06 L248.62,629.69 L249.50,630.30 L250.38,630.91 L251.26,631.50 L252.14,632.08 L253.02,632.64 L253.90,633.20 L254.78,633.75 L255.66,634.28 L256.54,634.80 L257.43,635.32 L258.31,635.82 L259.19,636.31 L260.07,636.79 L260.95,637.27 L261.83,637.73 L262.71,638.18 L263.59,638.63 L264.47,639.06 L265.35,639.49 L266.24,639.91 L267.12,640.32 L268.00,640.73 L268.88,641.12 L269.76,641.51 L270.64,641.89 L271.52,642.26 L272.40,642.63 L273.28,642.99 L274.16,643.34 L275.04,643.68 L275.93,644.02 L276.81,644.35 L277.69,644.67 L278.57,644.98 L279.45,645.29 L280.33,645.59 L281.21,645.89 L282.09,646.18 L282.97,646.46 L283.85,646.74 L284.73,647.00 L285.62,647.27 L286.50,647.52 L287.38,647.77 L288.26,648.02 L289.14,648.25 L290.02,648.48 L290.90,648.71 L291.78,648.93 L292.66,649.14 L293.54,649.35 L294.43,649.55 L295.31,649.75 L296.19,649.94 L297.07,650.12 L297.95,650.30 L298.83,650.48 L299.71,650.65 L300.59,650.81 L301.47,650.97 L302.35,651.12 L303.23,651.27 L304.12,651.41 L305.00,651.55 L305.88,651.68 L306.76,651.81 L307.64,651.94 L308.52,652.05 L309.40,652.17 L310.28,652.28 L311.16,652.38 L312.04,652.48 L312.92,652.58 L313.81,652.67 L314.69,652.76 L315.57,652.84 L316.45,652.92 L317.33,653.00 L318.21,653.07 L319.09,653.13 L319.97,653.20 L320.85,653.26 L321.73,653.31 L322.62,653.37 L323.50,653.41 L324.38,653.46 L325.26,653.50 L326.14,653.54 L327.02,653.57 L327.90,653.61 L328.78,653.63 L329.66,653.66 L330.54,653.68 L331.42,653.70 L332.31,653.72 L333.19,653.73 L334.07,653.74 L334.95,653.75 L335.83,653.75 L336.71,653.76 L337.59,653.76 L338.47,653.75 L339.35,653.75 L340.23,653.74 L341.11,653.73 L342.00,653.72 L342.88,653.71 L343.76,653.69 L344.64,653.67 L345.52,653.65 L346.40,653.63 L347.28,653.61 L348.16,653.58 L349.04,653.55 L349.92,653.52 L350.81,653.49 L351.69,653.46 L352.57,653.43 L353.45,653.39 L354.33,653.36 L355.21,653.32 L356.09,653.28 L356.97,653.24 L357.85,653.20 L358.73,653.16 L359.61,653.11 L360.50,653.07 L361.38,653.03 L362.26,652.98 L363.14,652.94 L364.02,652.89 L364.90,652.84 M299.40,470.58 L300.89,470.54 L302.38,470.51 L303.86,470.46 L305.35,470.42 L306.84,470.37 L308.33,470.32 L309.82,470.26 L311.31,470.21 L312.79,470.15 L314.28,470.08 L315.77,470.02 L317.26,469.95 L318.75,469.88 L320.24,469.81 L321.72,469.73 L323.21,469.66 L324.70,469.58 L326.19,469.50 L327.68,469.42 L329.16,469.33 L330.65,469.25 L332.14,469.16 L333.63,469.07 L335.12,468.98 L336.61,468.89 L338.09,468.80 L339.58,468.70 L341.07,468.61 L342.56,468.51 L344.05,468.42 L345.54,468.32 L347.02,468.22 L348.51,468.12 L350.00,468.03 L351.49,467.93 L352.98,467.83 L354.46,467.73 L355.95,467.63 L357.44,467.53 L358.93,467.43 L360.42,467.33 L361.91,467.23 L363.39,467.14 L364.88,467.04 L366.37,466.94 L367.86,466.85 L369.35,466.75 L370.84,466.66 L372.32,466.57 L373.81,466.47 L375.30,466.38 L376.79,466.29 L378.28,466.20 L379.76,466.12 L381.25,466.03 L382.74,465.95 L384.23,465.87 L385.72,465.79 L387.21,465.71 L388.69,465.63 L390.18,465.56 L391.67,465.49 L393.16,465.42 L394.65,465.35 L396.14,465.29 L397.62,465.23 L399.11,465.17 L400.60,465.11 L402.09,465.06 L403.58,465.01 L405.06,464.96 L406.55,464.92 L408.04,464.88 L409.53,464.84 L411.02,464.80 L412.51,464.77 L413.99,464.75 L415.48,464.72 L416.97,464.70 L418.46,464.69 L419.95,464.68 L421.44,464.67 L422.92,464.67 L424.41,464.67 L425.90,464.67 L427.39,464.68 L428.88,464.70 L430.36,464.72 L431.85,464.74 L433.34,464.77 L434.83,464.80 L436.32,464.84 L437.81,464.89 L439.29,464.94 L440.78,464.99 L442.27,465.05 L443.76,465.12 L445.25,465.19 L446.74,465.27 L448.22,465.35 L449.71,465.44 L451.20,465.53 L452.69,465.63 L454.18,465.74 L455.66,465.85 L457.15,465.97 L458.64,466.10 L460.13,466.23 L461.62,466.37 L463.11,466.52 L464.59,466.67 L466.08,466.83 L467.57,466.99 L469.06,467.17 L470.55,467.35 L472.04,467.54 L473.52,467.73 L475.01,467.94 L476.50,468.15 M299.40,469.96 L300.89,470.28 L302.37,470.60 L303.86,470.92 L305.34,471.24 L306.83,471.56 L308.31,471.89 L309.80,472.21 L311.29,472.54 L312.77,472.86 L314.26,473.19 L315.74,473.52 L317.23,473.85 L318.71,474.18 L320.20,474.51 L321.69,474.85 L323.17,475.18 L324.66,475.51 L326.14,475.84 L327.63,476.18 L329.11,476.51 L330.60,476.85 L332.09,477.18 L333.57,477.51 L335.06,477.85 L336.54,478.18 L338.03,478.52 L339.51,478.85 L341.00,479.18 L342.49,479.52 L343.97,479.85 L345.46,480.18 L346.94,480.51 L348.43,480.84 L349.91,481.17 L351.40,481.50 L352.89,481.83 L354.37,482.15 L355.86,482.48 L357.34,482.80 L358.83,483.13 L360.31,483.45 L361.80,483.77 L363.29,484.09 L364.77,484.40 L366.26,484.72 L367.74,485.03 L369.23,485.35 L370.71,485.66 L372.20,485.97 L373.69,486.27 L375.17,486.58 L376.66,486.88 L378.14,487.18 L379.63,487.48 L381.11,487.77 L382.60,488.07 L384.09,488.36 L385.57,488.64 L387.06,488.93 L388.54,489.21 L390.03,489.49 L391.51,489.77 L393.00,490.04 L394.49,490.32 L395.97,490.58 L397.46,490.85 L398.94,491.11 L400.43,491.37 L401.91,491.62 L403.40,491.87 L404.89,492.12 L406.37,492.37 L407.86,492.61 L409.34,492.84 L410.83,493.08 L412.31,493.31 L413.80,493.53 L415.29,493.75 L416.77,493.97 L418.26,494.18 L419.74,494.39 L421.23,494.60 L422.71,494.80 L424.20,494.99 L425.69,495.18 L427.17,495.37 L428.66,495.55 L430.14,495.73 L431.63,495.90 L433.11,496.06 L434.60,496.23 L436.09,496.38 L437.57,496.53 L439.06,496.68 L440.54,496.82 L442.03,496.96 L443.51,497.09 L445.00,497.21 L446.49,497.33 L447.97,497.45 L449.46,497.55 L450.94,497.65 L452.43,497.75 L453.91,497.84 L455.40,497.93 L456.89,498.00 L458.37,498.07 L459.86,498.14 L461.34,498.20 L462.83,498.25 L464.31,498.30 L465.80,498.34 L467.29,498.37 L468.77,498.40 L470.26,498.42 L471.74,498.43 L473.23,498.44 L474.71,498.43 L476.20,498.43 M299.20,490.99 L300.29,491.56 L301.37,492.12 L302.46,492.69 L303.55,493.24 L304.63,493.79 L305.72,494.34 L306.81,494.89 L307.89,495.42 L308.98,495.96 L310.07,496.49 L311.15,497.02 L312.24,497.54 L313.33,498.06 L314.41,498.57 L315.50,499.08 L316.58,499.58 L317.67,500.08 L318.76,500.58 L319.84,501.08 L320.93,501.56 L322.02,502.05 L323.10,502.53 L324.19,503.01 L325.28,503.48 L326.36,503.95 L327.45,504.42 L328.54,504.88 L329.62,505.34 L330.71,505.79 L331.80,506.24 L332.88,506.69 L333.97,507.14 L335.06,507.58 L336.14,508.01 L337.23,508.45 L338.32,508.88 L339.40,509.30 L340.49,509.73 L341.58,510.15 L342.66,510.56 L343.75,510.98 L344.84,511.39 L345.92,511.79 L347.01,512.20 L348.09,512.60 L349.18,512.99 L350.27,513.39 L351.35,513.78 L352.44,514.17 L353.53,514.55 L354.61,514.93 L355.70,515.31 L356.79,515.69 L357.87,516.06 L358.96,516.43 L360.05,516.80 L361.13,517.16 L362.22,517.53 L363.31,517.88 L364.39,518.24 L365.48,518.60 L366.57,518.95 L367.65,519.30 L368.74,519.64 L369.83,519.99 L370.91,520.33 L372.00,520.66 L373.09,521.00 L374.17,521.33 L375.26,521.67 L376.35,522.00 L377.43,522.32 L378.52,522.65 L379.61,522.97 L380.69,523.29 L381.78,523.61 L382.86,523.92 L383.95,524.24 L385.04,524.55 L386.12,524.86 L387.21,525.17 L388.30,525.47 L389.38,525.77 L390.47,526.08 L391.56,526.38 L392.64,526.67 L393.73,526.97 L394.82,527.26 L395.90,527.56 L396.99,527.85 L398.08,528.14 L399.16,528.42 L400.25,528.71 L401.34,528.99 L402.42,529.28 L403.51,529.56 L404.60,529.84 L405.68,530.12 L406.77,530.39 L407.86,530.67 L408.94,530.94 L410.03,531.22 L411.12,531.49 L412.20,531.76 L413.29,532.03 L414.37,532.29 L415.46,532.56 L416.55,532.83 L417.63,533.09 L418.72,533.35 L419.81,533.62 L420.89,533.88 L421.98,534.14 L423.07,534.40 L424.15,534.65 L425.24,534.91 L426.33,535.17 L427.41,535.42 L428.50,535.68" fill="none" stroke="#000" stroke-width="1.75" />
<circle cx="101.50" cy="473.20" r="5.10" fill="#000"/>
<circle cx="167.30" cy="489.40" r="5.10" fill="#000"/>
<circle cx="233.60" cy="618.80" r="5.10" fill="#000"/>
<circle cx="298.90" cy="652.30" r="5.10" fill="#000"/>
<circle cx="364.90" cy="652.60" r="5.10" fill="#000"/>
<rect x="294.30" y="469.50" width="10.20" height="10.20" fill="#000"/>
<path d="M299.10,460.50 L305.10,466.50 L299.10,472.50 L293.10,466.50 Z" fill="#000"/>
<path d="M299.20,484.50 L304.60,495.50 L293.80,495.50 Z" fill="#000"/>
<rect x="358.65" y="452.35" width="10.50" height="10.50" fill="#000"/>
<path d="M363.80,472.30 L370.00,478.50 L363.80,484.70 L357.60,478.50 Z" fill="#000"/>
<path d="M363.80,513.10 L369.40,523.90 L358.20,523.90 Z" fill="#000"/>
<rect x="423.65" y="469.05" width="10.50" height="10.50" fill="#000"/>
<path d="M428.80,500.90 L435.10,507.20 L428.80,513.50 L422.50,507.20 Z" fill="#000"/>
<path d="M428.50,529.90 L434.10,540.10 L422.90,540.10 Z" fill="#000"/>
<rect x="471.50" y="465.70" width="10.00" height="10.00" fill="#000"/>
<path d="M476.20,487.90 L482.30,494.00 L476.20,500.10 L470.10,494.00 Z" fill="#000"/>
</svg>
</body></html>
